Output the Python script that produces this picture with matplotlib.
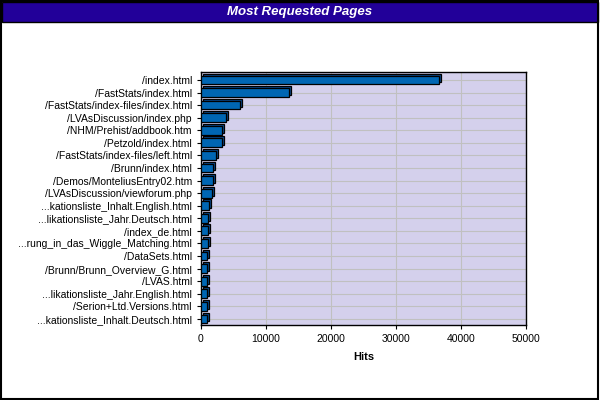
import matplotlib
matplotlib.use("Agg")
import matplotlib.pyplot as plt
import matplotlib.transforms as mtransforms
from matplotlib.patches import Rectangle

plt.rcParams['font.family'] = ['Liberation Sans', 'DejaVu Sans']

pages = [
    "/index.html",
    "/FastStats/index.html",
    "/FastStats/index-files/index.html",
    "/LVAsDiscussion/index.php",
    "/NHM/Prehist/addbook.htm",
    "/Petzold/index.html",
    "/FastStats/index-files/left.html",
    "/Brunn/index.html",
    "/Demos/MonteliusEntry02.htm",
    "/LVAsDiscussion/viewforum.php",
    "...kationsliste_Inhalt.English.html",
    "...likationsliste_Jahr.Deutsch.html",
    "/index_de.html",
    "...rung_in_das_Wiggle_Matching.html",
    "/DataSets.html",
    "/Brunn/Brunn_Overview_G.html",
    "/LVAS.html",
    "...likationsliste_Jahr.English.html",
    "/Serion+Ltd.Versions.html",
    "...kationsliste_Inhalt.Deutsch.html",
]
hits = [36600, 13600, 6000, 3800, 3300, 3200, 2300, 1800, 1800, 1650,
        1280, 1120, 1120, 1100, 970, 970, 960, 950, 940, 930]

fig = plt.figure(figsize=(6, 4), dpi=100)
ax = fig.add_axes([0.335, 0.1875, 0.542, 0.6325])
ax.set_facecolor("#D4D0EC")

y = list(range(len(pages)))
# 3D look: darker back face shifted up/right by ~2px
shift = mtransforms.ScaledTranslation(0.02, 0.02, fig.dpi_scale_trans)
ax.barh(y, hits, height=0.7, color="#0A4A8C", edgecolor="black",
        linewidth=0.9, transform=ax.transData + shift, zorder=2)
ax.barh(y, hits, height=0.7, color="#0066B3", edgecolor="black",
        linewidth=0.9, zorder=3)

ax.set_yticks(y)
ax.set_yticklabels(pages, fontsize=7.5)
ax.set_ylim(len(pages) - 0.52, -0.63)
ax.set_xlim(0, 50000)
ax.set_xticks([0, 10000, 20000, 30000, 40000, 50000])
ax.tick_params(axis="x", labelsize=7.5, length=3)
ax.tick_params(axis="y", length=3)
ax.grid(True, color="#C0C0C0", linewidth=0.8, zorder=0)
ax.set_axisbelow(True)
for s in ax.spines.values():
    s.set_linewidth(1.0)
ax.set_xlabel("Hits", fontsize=8, fontweight="bold", labelpad=6)

# title band
fig.patches.append(Rectangle((0.004, 0.945), 0.992, 0.05, transform=fig.transFigure,
                             facecolor="#220099", edgecolor="black", linewidth=1))
fig.text(0.5, 0.97, "Most Requested Pages", color="white", fontsize=9.5,
         fontweight="bold", style="italic", ha="center", va="center")
# outer frame
fig.patches.append(Rectangle((0.002, 0.003), 0.994, 0.994, transform=fig.transFigure,
                             facecolor="none", edgecolor="black", linewidth=1.5))

plt.savefig("out.png", dpi=100)
plt.close()
